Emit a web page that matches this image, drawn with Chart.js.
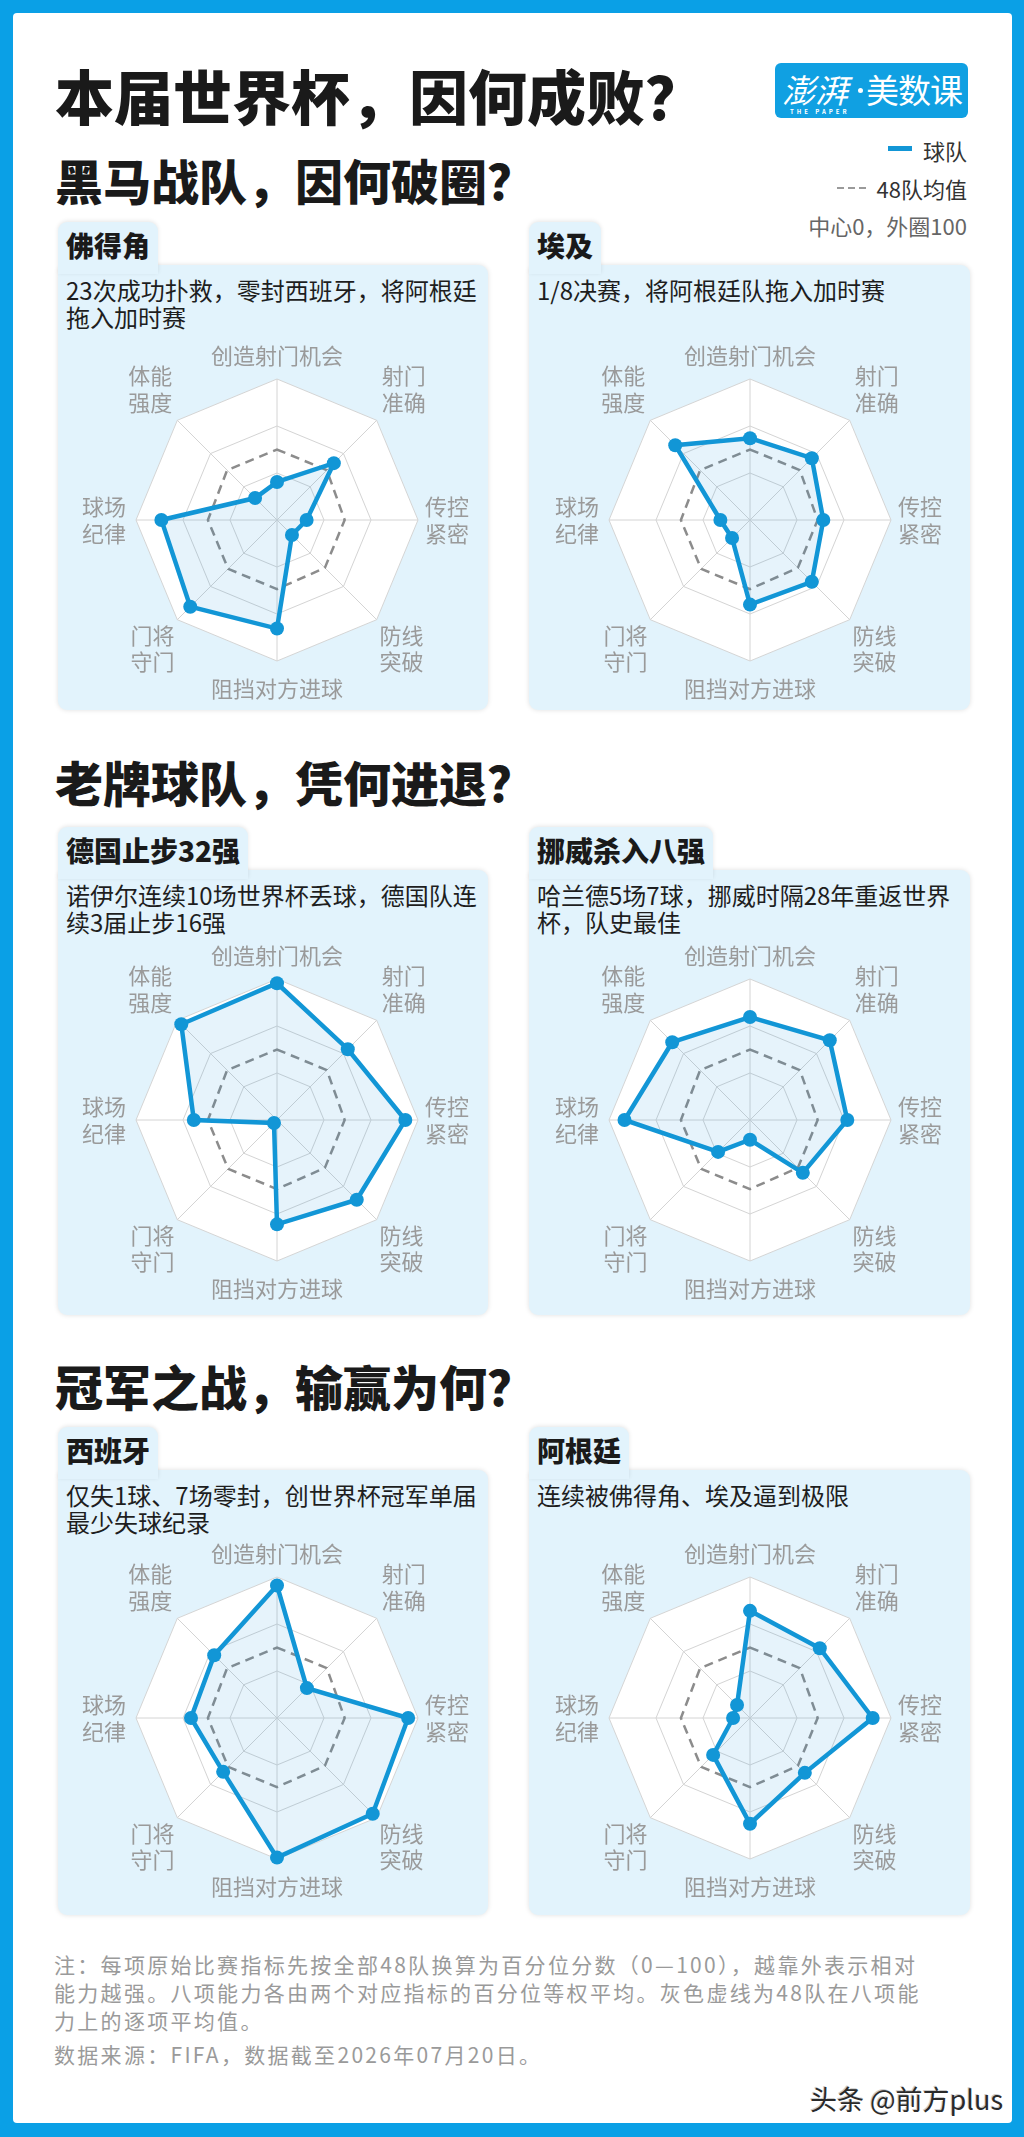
<!DOCTYPE html>
<html><head><meta charset="utf-8">
<script src="https://cdn.jsdelivr.net/npm/chart.js@4.4.1/dist/chart.umd.min.js"></script>
<style>
html,body{margin:0;padding:0;}
body{width:1024px;height:2137px;background:#0aa0e6;position:relative;overflow:hidden;font-family:"Noto Sans CJK SC","Noto Sans",sans-serif;}
#page{position:absolute;left:13px;top:13px;width:999px;height:2110px;background:#fff;border-radius:4px;}
.abs{position:absolute;white-space:nowrap;}
.title{font-size:59px;line-height:59px;font-weight:900;color:#1a1a1a;}
.h2{font-size:48px;line-height:48px;font-weight:900;color:#1a1a1a;}
.tab{position:absolute;height:52px;background:#e2f3fc;border-radius:9px 9px 0 0;box-shadow:0 -1px 4px rgba(0,0,0,0.10);z-index:2;}
.tab span{position:absolute;left:8px;top:8px;font-size:28px;line-height:30px;font-weight:900;color:#1a1a1a;white-space:nowrap;}
.panel{position:absolute;background:#e2f3fc;border-radius:9px;box-shadow:0 0 5px rgba(0,0,0,0.13);z-index:1;}
.desc{position:absolute;font-size:24px;line-height:27px;color:#1e1e1e;z-index:3;white-space:nowrap;}
canvas{position:absolute;z-index:4;}
.legend{font-size:22px;line-height:24px;color:#333;text-align:right;}
.note{font-size:21px;line-height:28px;color:#9a9a9a;letter-spacing:2.3px;}
.dash{position:absolute;top:187px;width:7px;height:2px;background:#9a9a9a;}
</style></head>
<body>
<div id="page"></div>

<div class="abs title" style="left:55px;top:65px;">本届世界杯，因何成败？</div>

<div class="abs" style="left:775px;top:63px;width:193px;height:55px;background:#10a0e2;border-radius:6px;"></div>
<div class="abs" style="left:782px;top:70px;font-size:33px;line-height:38px;color:#fff;font-style:italic;">澎湃</div>
<div class="abs" style="left:858px;top:88px;width:5px;height:5px;border-radius:50%;background:#fff;"></div>
<div class="abs" style="left:866px;top:70px;font-size:33px;line-height:38px;color:#fff;letter-spacing:-1px;">美数课</div>
<div class="abs" style="left:790px;top:108px;font-size:6px;line-height:7px;color:#fff;letter-spacing:3px;font-weight:700;">THE PAPER</div>

<div class="abs" style="left:888px;top:146px;width:24px;height:5px;background:#1296d6;"></div>
<div class="abs legend" style="right:57px;top:138px;">球队</div>
<div class="dash" style="left:837px;"></div>
<div class="dash" style="left:848px;"></div>
<div class="dash" style="left:859px;"></div>
<div class="abs legend" style="right:57px;top:176px;">48队均值</div>
<div class="abs legend" style="right:57px;top:213px;color:#666;">中心0，外圈100</div>

<div class="abs h2" style="left:55px;top:155px;">黑马战队，因何破圈？</div>
<div class="abs h2" style="left:55px;top:757px;">老牌球队，凭何进退？</div>
<div class="abs h2" style="left:55px;top:1361px;">冠军之战，输赢为何？</div>

<div id="boxes"></div>

<div class="abs note" style="left:54px;top:1950px;">注：每项原始比赛指标先按全部48队换算为百分位分数（0—100），越靠外表示相对</div>
<div class="abs note" style="left:54px;top:1978px;">能力越强。八项能力各由两个对应指标的百分位等权平均。灰色虚线为48队在八项能</div>
<div class="abs note" style="left:54px;top:2006px;">力上的逐项平均值。</div>
<div class="abs note" style="left:54px;top:2040px;">数据来源：FIFA，数据截至2026年07月20日。</div>
<div class="abs" style="left:810px;top:2084px;font-size:27px;line-height:30px;color:#2a2a2a;text-shadow:1px 1px 0 #fff,-1px -1px 0 #ccc;">头条 @前方plus</div>

<script>
// ---- data ----
const axisLabels = ['创造射门机会', ['射门','准确'], ['传控','紧密'], ['防线','突破'], '阻挡对方进球', ['门将','守门'], ['球场','纪律'], ['体能','强度']];
const mean48    = [50, 50, 48, 48, 49, 49, 49, 50];
const capeVerde = [27, 57, 21, 15, 77, 87, 82, 22];
const egypt     = [58, 62, 52, 62, 60, 18, 21, 75];
const germany   = [97, 71, 91, 80, 74, 3, 59, 96];
const norway    = [73, 80, 69, 53, 14, 32, 89, 78];
const spain     = [94, 30, 93, 96, 99, 54, 61, 63];
const argentina = [76, 70, 87, 55, 75, 37, 12, 13];

const teamNames = ['佛得角', '埃及', '德国止步32强', '挪威杀入八强', '西班牙', '阿根廷'];
const teamNotes = [
  ['23次成功扑救，零封西班牙，将阿根廷', '拖入加时赛'],
  ['1/8决赛，将阿根廷队拖入加时赛'],
  ['诺伊尔连续10场世界杯丢球，德国队连', '续3届止步16强'],
  ['哈兰德5场7球，挪威时隔28年重返世界', '杯，队史最佳'],
  ['仅失1球、7场零封，创世界杯冠军单届', '最少失球纪录'],
  ['连续被佛得角、埃及逼到极限']
];
const teamValues = [capeVerde, egypt, germany, norway, spain, argentina];

// ---- layout ----
const BLUE = '#1296d6';
const colX = [{panel:58, w:430, cx:277}, {panel:529, w:441, cx:750}];
const rowY = [{tab:222, panel:265, bottom:710, cy:520}, {tab:827, panel:870, bottom:1315, cy:1120}, {tab:1427, panel:1470, bottom:1915, cy:1718}];
const LABEL_PAD = [10, 7, 7, 4, 14.6, 4, 10, 7];

const boxes = document.getElementById('boxes');
teamNames.forEach((name, i) => {
  const c = colX[i % 2], r = rowY[Math.floor(i / 2)];
  const tab = document.createElement('div');
  tab.className = 'tab';
  tab.style.left = c.panel + 'px';
  tab.style.top = r.tab + 'px';
  const sp = document.createElement('span');
  sp.textContent = name;
  tab.appendChild(sp);
  boxes.appendChild(tab);
  tab.style.width = (sp.getBoundingClientRect().width + 16) + 'px';
  const panel = document.createElement('div');
  panel.className = 'panel';
  panel.style.left = c.panel + 'px';
  panel.style.top = r.panel + 'px';
  panel.style.width = c.w + 'px';
  panel.style.height = (r.bottom - r.panel) + 'px';
  boxes.appendChild(panel);
  const d = document.createElement('div');
  d.className = 'desc';
  d.style.left = (c.panel + 8) + 'px';
  d.style.top = (r.panel + 11) + 'px';
  d.innerHTML = teamNotes[i].join('<br>');
  boxes.appendChild(d);

  const cv = document.createElement('canvas');
  cv.width = 480; cv.height = 364;
  cv.style.width = '480px'; cv.style.height = '364px';
  cv.style.left = (c.cx - 240) + 'px';
  cv.style.top = (r.cy - 179) + 'px';
  boxes.appendChild(cv);

  new Chart(cv, {
    type: 'radar',
    data: {
      labels: axisLabels,
      datasets: [
        { data: teamValues[i], borderColor: BLUE, backgroundColor: 'rgba(30,150,215,0.11)', borderWidth: 4.5,
          pointRadius: 7, pointHoverRadius: 7, pointBackgroundColor: BLUE, pointBorderWidth: 0, fill: true, order: 0 },
        { data: mean48, borderColor: '#8c8c8c', borderDash: [9, 6], borderWidth: 2.5, pointRadius: 0, fill: false, order: 1 }
      ]
    },
    options: {
      responsive: false, animation: false, devicePixelRatio: 1,
      layout: { padding: 0 },
      plugins: { legend: { display: false }, tooltip: { enabled: false } },
      elements: { line: { tension: 0 } },
      scales: {
        r: {
          min: 0, max: 100,
          backgroundColor: '#ffffff',
          ticks: { display: false, count: 4 },
          grid: { color: '#d4d4d4', lineWidth: 1 },
          angleLines: { color: '#d4d4d4', lineWidth: 1 },
          pointLabels: {
            color: '#9a9a9a',
            font: { family: '"Noto Sans CJK SC", sans-serif', size: 22, lineHeight: 1.2 },
            padding: ctx => LABEL_PAD[ctx.index]
          }
        }
      }
    }
  });
});
</script>
</body></html>
